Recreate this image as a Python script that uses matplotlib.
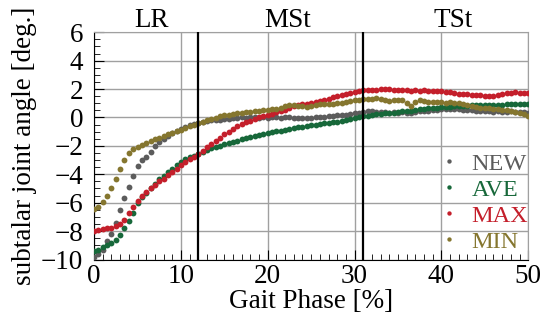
import numpy as np
import matplotlib
matplotlib.use('Agg')
import matplotlib.pyplot as plt
from matplotlib.ticker import MultipleLocator

plt.rcParams['font.family'] = ['Liberation Serif', 'DejaVu Serif']

# gait phase [%], sampled every 0.5 %
phase = np.arange(101) * 0.5

# subtalar joint angle [deg.]
new_vals = [
    -9.85, -9.6, -9.3, -8.7, -8.2, -7.4, -6.5, -5.7, -4.9, -4.1,
    -3.45, -3.0, -2.75, -2.4, -2.0, -1.7, -1.5, -1.3, -1.1, -0.95,
    -0.8, -0.68, -0.55, -0.45, -0.38, -0.3, -0.25, -0.2, -0.17, -0.15,
    -0.12, -0.08, -0.05, -0.02, 0.0, -0.02, 0.0, 0.01, -0.02, 0.0,
    -0.03, 0.0, 0.02, -0.01, 0.0, 0.02, -0.03, -0.05, -0.02, -0.06,
    -0.03, 0.02, 0.05, 0.03, 0.08, 0.1, 0.15, 0.18, 0.2, 0.25,
    0.3, 0.34, 0.38, 0.42, 0.44, 0.41, 0.38, 0.36, 0.34, 0.36,
    0.33, 0.35, 0.34, 0.32, 0.38, 0.42, 0.46, 0.48, 0.52, 0.55,
    0.58, 0.56, 0.6, 0.58, 0.57, 0.55, 0.52, 0.5, 0.48, 0.46,
    0.44, 0.42, 0.41, 0.43, 0.4, 0.41, 0.42, 0.38, 0.36, 0.35,
    0.33]
ave_vals = [
    -9.4, -9.3, -9.15, -9.0, -8.85, -8.6, -8.25, -7.8, -7.3, -6.7,
    -6.05, -5.6, -5.3, -5.0, -4.65, -4.35, -4.1, -3.85, -3.6, -3.35,
    -3.15, -2.95, -2.8, -2.68, -2.6, -2.42, -2.27, -2.15, -2.05, -1.98,
    -1.9, -1.8, -1.72, -1.63, -1.55, -1.47, -1.38, -1.3, -1.22, -1.17,
    -1.1, -1.03, -0.98, -0.93, -0.87, -0.8, -0.75, -0.7, -0.65, -0.6,
    -0.56, -0.52, -0.45, -0.41, -0.38, -0.34, -0.3, -0.27, -0.2, -0.1,
    -0.03, 0.03, 0.08, 0.13, 0.18, 0.22, 0.25, 0.28, 0.31, 0.34,
    0.38, 0.42, 0.45, 0.48, 0.52, 0.56, 0.6, 0.65, 0.67, 0.7,
    0.72, 0.74, 0.76, 0.78, 0.8, 0.82, 0.84, 0.86, 0.88, 0.87,
    0.88, 0.87, 0.88, 0.9, 0.91, 0.92, 0.93, 0.92, 0.94, 0.95,
    0.94]
max_vals = [
    -8.0, -7.9, -7.85, -7.8, -7.75, -7.65, -7.5, -7.2, -6.75, -6.3,
    -5.9, -5.55, -5.25, -5.0, -4.75, -4.5, -4.3, -4.08, -3.85, -3.62,
    -3.38, -3.15, -2.95, -2.75, -2.6, -2.35, -2.1, -1.9, -1.65, -1.42,
    -1.2, -1.0, -0.82, -0.62, -0.48, -0.35, -0.22, -0.1, 0.0, 0.08,
    0.15, 0.25, 0.35, 0.45, 0.55, 0.68, 0.78, 0.85, 0.92, 0.98,
    1.05, 1.1, 1.15, 1.22, 1.3, 1.42, 1.52, 1.6, 1.68, 1.74,
    1.8, 1.86, 1.9, 1.92, 1.95, 1.93, 1.97, 2.0, 2.02, 1.96,
    1.92, 1.9, 1.92, 1.89, 1.91, 1.88, 1.9, 1.86, 1.88, 1.83,
    1.85, 1.8, 1.76, 1.7, 1.66, 1.64, 1.62, 1.6, 1.57, 1.55,
    1.52, 1.5, 1.5, 1.58, 1.68, 1.72, 1.74, 1.76, 1.73, 1.72,
    1.7]
min_vals = [
    -6.45, -6.3, -5.95, -5.5, -5.0, -4.35, -3.65, -3.0, -2.5, -2.25,
    -2.1, -1.95, -1.8, -1.65, -1.55, -1.42, -1.32, -1.2, -1.08, -0.97,
    -0.85, -0.74, -0.62, -0.52, -0.42, -0.3, -0.2, -0.12, -0.02, 0.08,
    0.15, 0.2, 0.25, 0.3, 0.34, 0.38, 0.4, 0.45, 0.47, 0.5,
    0.52, 0.56, 0.6, 0.68, 0.78, 0.86, 0.85, 0.82, 0.78, 0.72,
    0.8, 0.88, 0.92, 0.96, 0.98, 0.96, 1.0, 1.02, 1.1, 1.18,
    1.22, 1.26, 1.28, 1.3, 1.33, 1.35, 1.3, 1.22, 1.18, 1.22,
    1.25, 1.2, 1.02, 0.78, 1.1, 1.2, 1.15, 1.12, 1.1, 1.07,
    1.08, 1.05, 1.06, 1.03, 1.0, 0.95, 0.88, 0.8, 0.75, 0.7,
    0.66, 0.64, 0.6, 0.58, 0.55, 0.5, 0.45, 0.38, 0.3, 0.22,
    0.1]

series_names = ['NEW', 'AVE', 'MAX', 'MIN']
series_colors = ['#5c5c5c', '#17683a', '#c41f2b', '#85762f']

# phase boundaries and labels
boundaries = [12, 31]
phase_labels = ['LR', 'MSt', 'TSt']
phase_label_x = [6.6, 22.3, 41.3]

fig = plt.figure(figsize=(5.44, 3.22), dpi=100)
ax = fig.add_axes([0.173, 0.194, 0.798, 0.706])

for vals, name, col in zip([new_vals, ave_vals, max_vals, min_vals],
                           series_names, series_colors):
    ax.plot(phase, vals, linestyle='none', marker='o', markersize=4.2,
            markeredgewidth=0, color=col, label=name, zorder=3)

for b in boundaries:
    ax.axvline(b, color='black', linewidth=1.6, zorder=4)

ax.set_xlim(0, 50)
ax.set_ylim(-10, 6)
ax.xaxis.set_major_locator(MultipleLocator(10))
ax.xaxis.set_minor_locator(MultipleLocator(1))
ax.yaxis.set_major_locator(MultipleLocator(2))
ax.yaxis.set_minor_locator(MultipleLocator(0.5))
ax.tick_params(which='both', direction='in', labelsize=19.5)
ax.tick_params(axis='x', pad=3)
ax.tick_params(axis='y', pad=8)
ax.tick_params(which='major', length=7)
ax.tick_params(which='minor', length=4)
ax.grid(True, which='major', color='#a0a0a0', linewidth=1)
for s in ['top', 'right']:
    ax.spines[s].set_color('#a0a0a0')
for s in ['left', 'bottom']:
    ax.spines[s].set_color('black')

ax.set_xlabel('Gait Phase [%]', fontsize=19.5, labelpad=0)
ax.set_ylabel('subtalar joint angle [deg.]', fontsize=19.5, labelpad=3)

for lab, cx in zip(phase_labels, phase_label_x):
    ax.text(cx, 6.35, lab, ha='center', va='baseline', fontsize=19.5)

leg = ax.legend(loc='lower right', frameon=False, fontsize=17.5,
                labelcolor='linecolor', handlelength=0.5, handletextpad=0.7,
                labelspacing=0.16, markerscale=0.75, borderpad=0,
                borderaxespad=0, bbox_to_anchor=(1.0, 0.03))

fig.savefig('out.png', dpi=100)
